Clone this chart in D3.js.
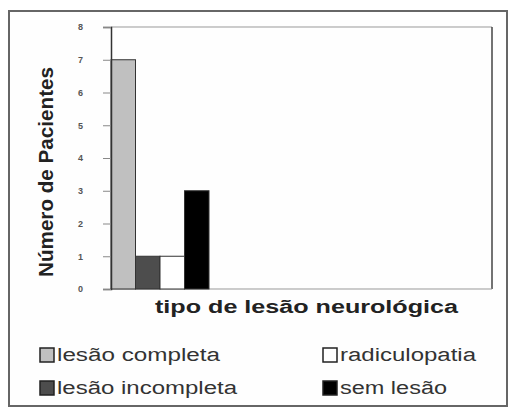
<!DOCTYPE html>
<html>
<meta charset="utf-8">
<title>Tipo de lesão neurológica</title>
<script src="https://d3js.org/d3.v7.min.js"></script>
<style>
body { margin: 0; background: #fff; }
text { font-family: "Liberation Sans", Arial, sans-serif; }
.tick text { fill: #555; font-size: 9px; font-weight: bold; }
</style>
<body>
<svg width="510" height="409"></svg>
<script>
// data
var series = ["lesão completa", "lesão incompleta", "radiculopatia", "sem lesão"];
var values = [7, 1, 1, 3];
var colors = ["#c0c0c0", "#4d4d4d", "#ffffff", "#000000"];
var yTicks = [0, 1, 2, 3, 4, 5, 6, 7, 8];

var svg = d3.select("svg");

// outer frame
svg.append("rect")
  .attr("x", 9).attr("y", 11).attr("width", 498).attr("height", 395)
  .attr("fill", "#fefefe").attr("stroke", "#666").attr("stroke-width", 2);

var plot = {left: 111, right: 492, top: 27, bottom: 289};

var y = d3.scaleLinear().domain([0, 8]).range([plot.bottom, plot.top]);
var x = d3.scaleBand().domain(series).range([plot.left, 209]).paddingInner(0);

// plot frame (top, right, bottom)
svg.append("line").attr("x1", plot.left).attr("x2", plot.right)
  .attr("y1", plot.top).attr("y2", plot.top).attr("stroke", "#999");
svg.append("line").attr("x1", plot.right).attr("x2", plot.right)
  .attr("y1", plot.top).attr("y2", plot.bottom).attr("stroke", "#444").attr("stroke-width", 1.5);
svg.append("line").attr("x1", plot.left).attr("x2", plot.right)
  .attr("y1", plot.bottom).attr("y2", plot.bottom).attr("stroke", "#999");

// bars
svg.selectAll(".bar")
  .data(values)
  .enter().append("rect")
  .attr("class", "bar")
  .attr("x", function(d, i) { return x(series[i]); })
  .attr("y", function(d) { return y(d); })
  .attr("width", x.bandwidth())
  .attr("height", function(d) { return y(0) - y(d); })
  .attr("fill", function(d, i) { return colors[i]; })
  .attr("stroke", "#333")
  .attr("stroke-width", 1);

// y axis
var yAxis = svg.append("g")
  .attr("transform", "translate(" + plot.left + ",0)")
  .call(d3.axisLeft(y).tickValues(yTicks).tickSize(8).tickPadding(20));
yAxis.select(".domain").attr("stroke", "#333").attr("stroke-width", 1.5);
yAxis.selectAll(".tick line").attr("stroke", "#888");

// axis titles
svg.append("text")
  .attr("transform", "translate(53,172) rotate(-90)")
  .attr("text-anchor", "middle")
  .attr("font-size", 21).attr("font-weight", "bold").attr("fill", "#222")
  .attr("textLength", 210).attr("lengthAdjust", "spacingAndGlyphs")
  .text("Número de Pacientes");

svg.append("text")
  .attr("x", 155).attr("y", 313)
  .attr("font-size", 18).attr("font-weight", "bold").attr("fill", "#222")
  .attr("textLength", 303).attr("lengthAdjust", "spacingAndGlyphs")
  .text("tipo de lesão neurológica");

// legend (display order: two columns)
var legOrder = [0, 2, 1, 3];
var legX = [40, 323, 40, 323];
var legY = [361, 361, 394, 394];
var legLen = [163, 136, 180, 107];
var leg = svg.selectAll(".leg")
  .data(legOrder)
  .enter().append("g")
  .attr("class", "leg")
  .attr("transform", function(d, i) { return "translate(" + legX[i] + "," + legY[i] + ")"; });
leg.append("rect")
  .attr("x", 0).attr("y", -13).attr("width", 14).attr("height", 14)
  .attr("fill", function(d) { return colors[d]; })
  .attr("stroke", "#222").attr("stroke-width", 1.5);
leg.append("text")
  .attr("x", 17).attr("y", 0)
  .attr("font-size", 18).attr("fill", "#333")
  .attr("textLength", function(d, i) { return legLen[i]; })
  .attr("lengthAdjust", "spacingAndGlyphs")
  .text(function(d) { return series[d]; });
</script>
</body>
</html>
